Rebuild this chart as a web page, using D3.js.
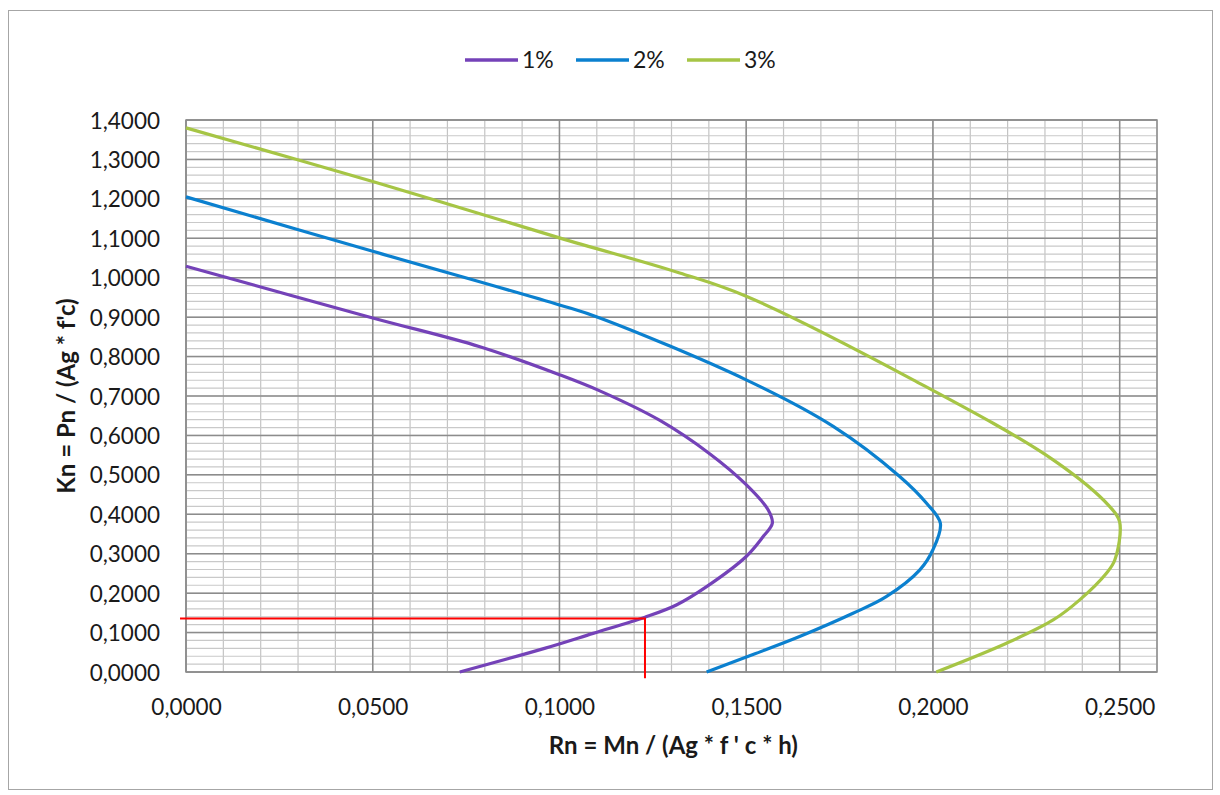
<!DOCTYPE html>
<html>
<head>
<meta charset="utf-8">
<script src="https://cdn.jsdelivr.net/npm/d3@7"></script>
<style>
  body { margin: 0; background: #fff; }
  svg { display: block; font-family: Lato, "Open Sans", sans-serif; }
</style>
</head>
<body>
<svg id="chart"></svg>
<script>
// series names and colours
const seriesNames = ['1%', '2%', '3%']
const seriesColors = ['#7442b8', '#0b80cf', '#a6c545']

// Rn values (x) and Kn values (y)
const rn1 = [0, 0.05, 0.0787, 0.1, 0.1108, 0.1269, 0.1403, 0.150, 0.1559, 0.1570, 0.1545, 0.1500, 0.1394, 0.1313, 0.1229, 0.1090, 0.0960, 0.0733]
const kn1 = [1.029, 0.898, 0.825, 0.754, 0.713, 0.638, 0.553, 0.475, 0.411, 0.377, 0.343, 0.293, 0.2165, 0.170, 0.139, 0.098, 0.060, 0.0]

const rn2 = [0, 0.05, 0.1, 0.1108, 0.15, 0.1733, 0.1911, 0.1983, 0.2020, 0.2000, 0.1965, 0.1875, 0.1786, 0.1643, 0.152, 0.1394]
const kn2 = [1.205, 1.067, 0.931, 0.898, 0.741, 0.623, 0.496, 0.428, 0.377, 0.310, 0.259, 0.191, 0.149, 0.090, 0.045, 0.0]

const rn3 = [0, 0.05, 0.1, 0.1322, 0.15, 0.1947, 0.2322, 0.2473, 0.2500, 0.2487, 0.2464, 0.2393, 0.2322, 0.2197, 0.2009]
const kn3 = [1.380, 1.244, 1.101, 1.012, 0.953, 0.741, 0.538, 0.420, 0.381, 0.284, 0.250, 0.183, 0.132, 0.073, 0.0]

// red reading line
const redRn = [-0.0016, 0.1229, 0.1229]
const redKn = [0.136, 0.136, -0.016]

// tick values
const xTicks = [0, 0.05, 0.10, 0.15, 0.20, 0.25]
const yTicks = [0, 0.1, 0.2, 0.3, 0.4, 0.5, 0.6, 0.7, 0.8, 0.9, 1.0, 1.1, 1.2, 1.3, 1.4]

const width = 1220, height = 795
const margin = { top: 120, right: 63, bottom: 123, left: 186 }

const svg = d3.select('#chart').attr('width', width).attr('height', height)

// outer chart frame
svg.append('rect')
  .attr('x', 8.5).attr('y', 10.5)
  .attr('width', 1204).attr('height', 779)
  .attr('fill', '#fff').attr('stroke', '#a6a6a6').attr('stroke-width', 1)

const x = d3.scaleLinear().domain([0, 0.26]).range([margin.left, width - margin.right])
const y = d3.scaleLinear().domain([0, 1.4]).range([height - margin.bottom, margin.top])

const locale = d3.formatLocale({ decimal: ',', thousands: '.', grouping: [3], currency: ['', ''] })
const fmt = locale.format('.4f')

// grid: minor lines first
const grid = svg.append('g')
grid.selectAll('.vminor').data(d3.range(0, 0.2601, 0.01)).enter()
  .append('line')
  .attr('x1', d => x(d)).attr('x2', d => x(d))
  .attr('y1', y(0)).attr('y2', y(1.4))
  .attr('stroke', '#c4c4c4').attr('stroke-width', 1.2)
grid.selectAll('.hminor').data(d3.range(0, 1.4001, 0.02)).enter()
  .append('line')
  .attr('x1', x(0)).attr('x2', x(0.26))
  .attr('y1', d => y(d)).attr('y2', d => y(d))
  .attr('stroke', '#c9c9c9').attr('stroke-width', 1.2)
grid.selectAll('.vmajor').data(xTicks).enter()
  .append('line')
  .attr('x1', d => x(d)).attr('x2', d => x(d))
  .attr('y1', y(0)).attr('y2', y(1.4))
  .attr('stroke', '#8c8c8c').attr('stroke-width', 1.5)
grid.selectAll('.hmajor').data(yTicks).enter()
  .append('line')
  .attr('x1', x(0)).attr('x2', x(0.26))
  .attr('y1', d => y(d)).attr('y2', d => y(d))
  .attr('stroke', '#8c8c8c').attr('stroke-width', 1.5)
grid.append('rect')
  .attr('x', x(0)).attr('y', y(1.4))
  .attr('width', x(0.26) - x(0)).attr('height', y(0) - y(1.4))
  .attr('fill', 'none').attr('stroke', '#8c8c8c').attr('stroke-width', 1.5)

// axes
const xAxis = svg.append('g')
  .attr('transform', `translate(0,${y(0)})`)
  .call(d3.axisBottom(x).tickValues(xTicks).tickFormat(fmt).tickSize(0).tickPadding(27))
const yAxis = svg.append('g')
  .attr('transform', `translate(${x(0)},0)`)
  .call(d3.axisLeft(y).tickValues(yTicks).tickFormat(fmt).tickSize(0).tickPadding(26))
;[xAxis, yAxis].forEach(a => {
  a.select('.domain').remove()
  a.selectAll('text').attr('font-size', 22.5).attr('fill', '#1a1a1a')
    .attr('font-family', 'Lato, sans-serif')
})
yAxis.selectAll('text').attr('dy', '0.36em')

// axis titles
svg.append('text')
  .attr('x', x(0.1305)).attr('y', 754)
  .attr('text-anchor', 'middle')
  .attr('font-size', 24).attr('font-weight', 'bold').attr('fill', '#1a1a1a')
  .text("Rn = Mn / (Ag * f ' c * h)")
svg.append('text')
  .attr('transform', `translate(75,${y(0.7)}) rotate(-90)`)
  .attr('text-anchor', 'middle')
  .attr('font-size', 24).attr('font-weight', 'bold').attr('fill', '#1a1a1a')
  .text("Kn = Pn / (Ag * f'c)")

// curves
const allSeries = [
  { name: seriesNames[0], rn: rn1, kn: kn1 },
  { name: seriesNames[1], rn: rn2, kn: kn2 },
  { name: seriesNames[2], rn: rn3, kn: kn3 }
]
const line = d3.line().x(d => x(d[0])).y(d => y(d[1]))
const smooth = d3.line().x(d => x(d[0])).y(d => y(d[1])).curve(d3.curveCatmullRom.alpha(0.5))

svg.selectAll('.curve').data(allSeries).enter()
  .append('path')
  .attr('class', 'curve')
  .attr('d', s => smooth(d3.zip(s.rn, s.kn)))
  .attr('fill', 'none')
  .attr('stroke', (s, i) => seriesColors[i])
  .attr('stroke-width', 3.2)
  .attr('stroke-linejoin', 'round')

svg.append('path')
  .attr('d', line(d3.zip(redRn, redKn)))
  .attr('fill', 'none').attr('stroke', '#ff0000').attr('stroke-width', 2)

// legend
const legendX = [465, 576, 687]
const lg = svg.selectAll('.legend').data(seriesNames).enter()
  .append('g').attr('class', 'legend')
  .attr('transform', (d, i) => `translate(${legendX[i]},60)`)
lg.append('line')
  .attr('x1', 0).attr('x2', 53).attr('y1', 0).attr('y2', 0)
  .attr('stroke', (d, i) => seriesColors[i]).attr('stroke-width', 3.5)
lg.append('text')
  .attr('x', 57).attr('y', 0).attr('dy', '0.36em')
  .attr('font-size', 23).attr('fill', '#1a1a1a')
  .text(d => d)
</script>
</body>
</html>
